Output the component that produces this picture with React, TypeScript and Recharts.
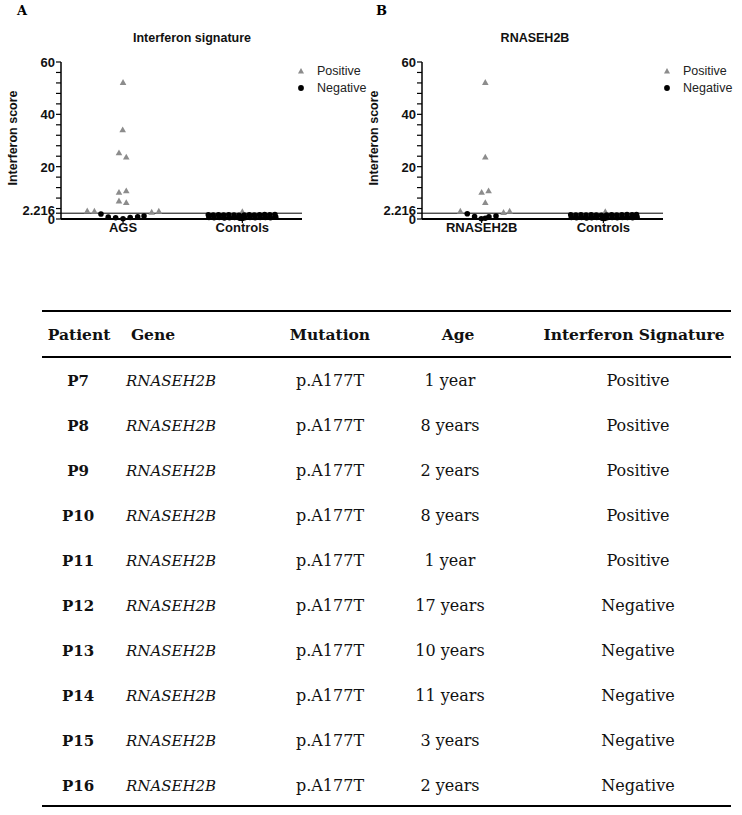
import React from 'react';
import {
  Legend,
  ReferenceLine,
  Scatter,
  ScatterChart,
  XAxis,
  YAxis,
} from 'recharts';

// ---- data ----
const categoriesA = ['AGS', 'Controls'];
const categoriesB = ['RNASEH2B', 'Controls'];
const yTicks = [0, 2.216, 4, 8, 12, 16, 20, 24, 28, 32, 36, 40, 44, 48, 52, 56, 60];
const yLabelled = [0, 2.216, 20, 40, 60];
const threshold = 2.216;

// panel A - AGS group
const agsPosX = [1.0, 0.997, 0.966, 1.027, 0.966, 1.027, 0.966, 1.027, 0.7, 0.76, 1.24, 1.3];
const agsPosY = [52.1, 34.0, 25.2, 23.6, 10.1, 10.7, 6.8, 6.2, 3.0, 2.9, 2.5, 2.9];
const agsNegX = [0.815, 0.876, 0.938, 1.0, 1.06, 1.123, 1.176];
const agsNegY = [1.9, 0.7, 0.5, 0.1, 0.6, 0.8, 1.1];

// panel A - controls
const ctrlAPosX = [2.0];
const ctrlAPosY = [2.7];
const ctrlANegX = [
  1.715, 1.72, 1.756, 1.763, 1.8, 1.806, 1.843, 1.849, 1.886, 1.892, 1.93, 1.935, 1.972, 1.978,
  1.99, 2.0, 2.01, 2.015, 2.021, 2.058, 2.064, 2.1, 2.107, 2.144, 2.15, 2.187, 2.193, 2.23,
  2.236, 2.273, 2.28,
];
const ctrlANegY = [
  1.6, 0.6, 1.5, 0.5, 1.6, 0.6, 1.5, 0.4, 1.6, 0.5, 1.5, 0.6, 1.4, 0.3, 0.8, 0.2, 1.0, 1.5, 0.5,
  1.6, 0.6, 1.5, 0.5, 1.6, 0.6, 1.7, 0.6, 1.6, 0.5, 1.7, 0.7,
];

// panel B - RNASEH2B group
const rnPosX = [1.03, 1.03, 1.0, 1.057, 1.03, 0.825, 1.18, 1.23];
const rnPosY = [52.1, 23.6, 10.1, 10.7, 6.2, 2.9, 2.4, 2.9];
const rnNegX = [0.882, 0.942, 0.997, 1.03, 1.06, 1.118];
const rnNegY = [2.0, 0.9, 0.1, 0.3, 0.8, 1.1];

// panel B - controls
const ctrlBPosX = [2.016];
const ctrlBPosY = [2.7];
const ctrlBNegX = [
  1.732, 1.737, 1.774, 1.779, 1.816, 1.821, 1.858, 1.862, 1.9, 1.904, 1.942, 1.946, 1.984, 1.99,
  2.0, 2.01, 2.02, 2.026, 2.03, 2.068, 2.072, 2.11, 2.114, 2.152, 2.156, 2.194, 2.198, 2.236,
  2.24, 2.272, 2.277,
];
const ctrlBNegY = [
  1.6, 0.6, 1.5, 0.5, 1.6, 0.6, 1.5, 0.4, 1.6, 0.5, 1.5, 0.6, 1.4, 0.3, 0.8, 0.2, 1.0, 1.5, 0.5,
  1.6, 0.6, 1.5, 0.5, 1.6, 0.6, 1.7, 0.6, 1.6, 0.5, 1.7, 0.7,
];

// table
const patients = ['P7', 'P8', 'P9', 'P10', 'P11', 'P12', 'P13', 'P14', 'P15', 'P16'];
const genes = Array(10).fill('RNASEH2B');
const mutations = Array(10).fill('p.A177T');
const ages = ['1 year', '8 years', '2 years', '8 years', '1 year', '17 years', '10 years', '11 years', '3 years', '2 years'];
const signatures = ['Positive', 'Positive', 'Positive', 'Positive', 'Positive', 'Negative', 'Negative', 'Negative', 'Negative', 'Negative'];

const zip = (xs: number[], ys: number[]) => xs.map((x, i) => ({ x, y: ys[i] }));

const posA = [...zip(agsPosX, agsPosY), ...zip(ctrlAPosX, ctrlAPosY)];
const negA = [...zip(agsNegX, agsNegY), ...zip(ctrlANegX, ctrlANegY)];
const posB = [...zip(rnPosX, rnPosY), ...zip(ctrlBPosX, ctrlBPosY)];
const negB = [...zip(rnNegX, rnNegY), ...zip(ctrlBNegX, ctrlBNegY)];

const SANS = 'Arial, "Liberation Sans", Helvetica, sans-serif';
const SERIF = '"DejaVu Serif", serif';
const GREY = '#8c8c8c';

function Tri(props: any) {
  const { cx, cy } = props;
  return <polygon points={`${cx},${cy - 3.6} ${cx + 3.3},${cy + 2.3} ${cx - 3.3},${cy + 2.3}`} fill={GREY} />;
}

function Dot(props: any) {
  const { cx, cy } = props;
  return <circle cx={cx} cy={cy} r={2.8} fill="#000" />;
}

function YTick(props: any) {
  const { x, y, payload } = props;
  const v = payload.value;
  if (!yLabelled.includes(v)) return <g />;
  return (
    <text
      x={x}
      y={y + (v === threshold ? 2 : 5)}
      textAnchor="end"
      fontFamily={SANS}
      fontWeight="bold"
      fontSize={13}
      fill="#111"
    >
      {v === threshold ? '2.216' : v}
    </text>
  );
}

function LegendBox() {
  const items = [
    { name: 'Positive', icon: <polygon points="5,2 8,7.5 2,7.5" fill={GREY} /> },
    { name: 'Negative', icon: <circle cx={5} cy={5} r={2.9} fill="#000" /> },
  ];
  return (
    <div>
      {items.map((it) => (
        <div key={it.name} style={{ display: 'flex', alignItems: 'center', height: 17 }}>
          <svg width={10} height={10} style={{ marginRight: 11 }}>
            {it.icon}
          </svg>
          <span style={{ fontFamily: SANS, fontSize: 12.5, color: '#222' }}>{it.name}</span>
        </div>
      ))}
    </div>
  );
}

function Panel({
  left,
  width,
  axisW,
  marginRight,
  domain,
  cats,
  pos,
  neg,
  letter,
  title,
  titleX,
  legendLeft,
}: {
  left: number;
  width: number;
  axisW: number;
  marginRight: number;
  domain: [number, number];
  cats: string[];
  pos: { x: number; y: number }[];
  neg: { x: number; y: number }[];
  letter: string;
  title: string;
  titleX: number;
  legendLeft: number;
}) {
  return (
    <div style={{ position: 'absolute', left, top: 0, width, height: 240 }}>
      <div
        style={{
          position: 'absolute',
          left: letter === 'A' ? 17 : 16,
          top: 3,
          fontFamily: SERIF,
          fontWeight: 'bold',
          fontSize: 13,
        }}
      >
        {letter}
      </div>
      <div
        style={{
          position: 'absolute',
          left: titleX - 100,
          width: 200,
          top: 31,
          textAlign: 'center',
          fontFamily: SANS,
          fontWeight: 'bold',
          fontSize: 12.5,
          color: '#111',
        }}
      >
        {title}
      </div>
      <div
        style={{
          position: 'absolute',
          left: axisW - 48 - 60,
          top: 131,
          width: 120,
          textAlign: 'center',
          transform: 'rotate(-90deg)',
          fontFamily: SANS,
          fontWeight: 'bold',
          fontSize: 12.5,
          color: '#111',
        }}
      >
        Interferon score
      </div>
      <ScatterChart width={width} height={240} margin={{ top: 62, right: marginRight, bottom: 0, left: 0 }}>
        <XAxis
          type="number"
          dataKey="x"
          domain={domain}
          ticks={[1, 2]}
          tickFormatter={(v) => cats[v - 1]}
          height={21}
          axisLine={{ stroke: '#000', strokeWidth: 2 }}
          tickLine={{ stroke: '#000', strokeWidth: 1.2 }}
          tickSize={4}
          tickMargin={0}
          tick={{ fontFamily: SANS, fontWeight: 'bold', fontSize: 13, fill: '#111' }}
          allowDataOverflow
        />
        <YAxis
          type="number"
          dataKey="y"
          domain={[0, 60]}
          ticks={yTicks}
          interval={0}
          width={axisW}
          axisLine={{ stroke: '#000', strokeWidth: 1.5 }}
          tickLine={{ stroke: '#000', strokeWidth: 1.2 }}
          tickSize={5}
          tickMargin={1}
          tick={<YTick />}
        />
        <ReferenceLine y={threshold} stroke="#000" strokeWidth={1} />
        <Legend
          layout="horizontal"
          verticalAlign="middle"
          align="center"
          content={() => <LegendBox />}
          wrapperStyle={{ position: 'absolute', left: legendLeft, top: 62, width: 80 }}
        />
        <Scatter name="Positive" data={pos} shape={<Tri />} isAnimationActive={false} />
        <Scatter name="Negative" data={neg} shape={<Dot />} isAnimationActive={false} />
      </ScatterChart>
    </div>
  );
}

const colHeaders = [
  { text: 'Patient', cx: 79 },
  { text: 'Gene', cx: 153 },
  { text: 'Mutation', cx: 330 },
  { text: 'Age', cx: 458 },
  { text: 'Interferon Signature', cx: 634 },
];

function Cell({ cx, cy, children, style }: { cx?: number; cy: number; children: React.ReactNode; style?: React.CSSProperties }) {
  return (
    <div
      style={{
        position: 'absolute',
        left: (cx ?? 0) - 110,
        width: 220,
        top: cy - 11,
        height: 22,
        lineHeight: '22px',
        textAlign: 'center',
        fontFamily: SERIF,
        fontSize: 16,
        color: '#111',
        ...style,
      }}
    >
      {children}
    </div>
  );
}

function PatientTable() {
  const rowY = (i: number) => 381 + i * 45;
  return (
    <div>
      <div style={{ position: 'absolute', left: 42, top: 310, width: 689, height: 2, background: '#000' }} />
      <div style={{ position: 'absolute', left: 42, top: 356, width: 689, height: 2, background: '#000' }} />
      <div style={{ position: 'absolute', left: 42, top: 805, width: 689, height: 2, background: '#000' }} />
      {colHeaders.map((h) => (
        <Cell key={h.text} cx={h.cx} cy={335} style={{ fontWeight: 'bold', fontSize: 15.5 }}>
          {h.text}
        </Cell>
      ))}
      {patients.map((p, i) => (
        <React.Fragment key={p}>
          <Cell cx={78} cy={rowY(i)} style={{ fontWeight: 'bold', fontSize: 15 }}>
            {p}
          </Cell>
          <Cell cx={236} cy={rowY(i)} style={{ fontStyle: 'italic', textAlign: 'left', fontSize: 15 }}>
            {genes[i]}
          </Cell>
          <Cell cx={330} cy={rowY(i)}>
            {mutations[i]}
          </Cell>
          <Cell cx={450} cy={rowY(i)}>
            {ages[i]}
          </Cell>
          <Cell cx={638} cy={rowY(i)}>
            {signatures[i]}
          </Cell>
        </React.Fragment>
      ))}
    </div>
  );
}

export default function App() {
  return (
    <div style={{ position: 'absolute', left: 0, top: 0, width: 742, height: 815, background: '#fff' }}>
      <Panel
        left={0}
        width={370}
        axisW={61}
        marginRight={68}
        domain={[0.48, 2.5]}
        cats={categoriesA}
        pos={posA}
        neg={negA}
        letter="A"
        title="Interferon signature"
        titleX={192}
        legendLeft={296}
      />
      <Panel
        left={360}
        width={372}
        axisW={62}
        marginRight={69}
        domain={[0.51, 2.49]}
        cats={categoriesB}
        pos={posB}
        neg={negB}
        letter="B"
        title="RNASEH2B"
        titleX={175}
        legendLeft={302}
      />
      <PatientTable />
    </div>
  );
}
